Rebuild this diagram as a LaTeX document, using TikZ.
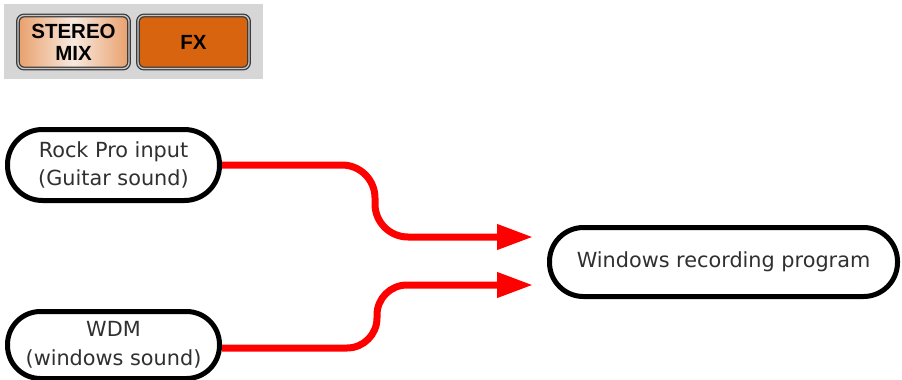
\documentclass[tikz,border=0pt]{standalone}
\usepackage{fontspec}
\setmainfont{DejaVu Sans}
\newfontfamily\btnfont{Liberation Sans}
\usetikzlibrary{arrows.meta}
\definecolor{panelgray}{HTML}{D6D6D6}
\definecolor{fxorange}{HTML}{D9640F}
\definecolor{mixedge}{HTML}{E9A06C}
\definecolor{mixmid}{HTML}{F7E9DF}
\definecolor{btnline}{HTML}{3A3A3A}
\definecolor{btngap}{HTML}{C8C8C8}
\definecolor{labtext}{HTML}{303030}
\tikzset{
  pill/.style={draw=black, line width=5pt, fill=white, align=center,
    text=labtext, font=\fontsize{20.8}{28.5}\selectfont, inner sep=0pt},
  btn/.style={draw=btnline, line width=1.3pt, double=btngap, double distance=1.3pt,
    rounded corners=6pt, minimum width=111pt, minimum height=53pt, inner sep=0pt,
    align=center, font=\btnfont\bfseries\fontsize{20.5}{22}\selectfont, text=black},
  flow/.style={draw=red, line width=7pt, -{Triangle[length=36pt,width=24pt]}},
}
\begin{document}
\begin{tikzpicture}[x=1pt,y=-1pt]
\useasboundingbox (0,0) rectangle (902,380);
% panel
\node[fill=panelgray, minimum width=259pt, minimum height=75pt, inner sep=0pt, draw=none] (panel) at (133,41.5) {};
\node[btn, left color=mixedge, right color=mixedge, middle color=mixmid] (mix) at (73.5,42) {STEREO\\MIX};
\node[btn, fill=fxorange] (fx) at (193.5,42) {FX};
% nodes
\node[pill, minimum width=212pt, minimum height=71pt, rounded corners=35pt] (rock) at (113.5,165) {Rock Pro input\\(Guitar sound)};
\node[pill, minimum width=212pt, minimum height=67pt, rounded corners=33pt] (wdm) at (113.5,345) {WDM\\(windows sound)};
\node[pill, minimum width=348pt, minimum height=69pt, rounded corners=34pt] (rec) at (723.5,262) {Windows recording program};
% arrow ends
\coordinate (a1) at (533,237);
\coordinate (a2) at (533,285);
\draw[flow, rounded corners=33pt] (rock.east) -- (375,165) -- (375,237) -- (a1);
\draw[flow, rounded corners=30pt] ([yshift=-3pt]wdm.east) -- (377,348) -- (377,285) -- (a2);
\end{tikzpicture}
\end{document}
